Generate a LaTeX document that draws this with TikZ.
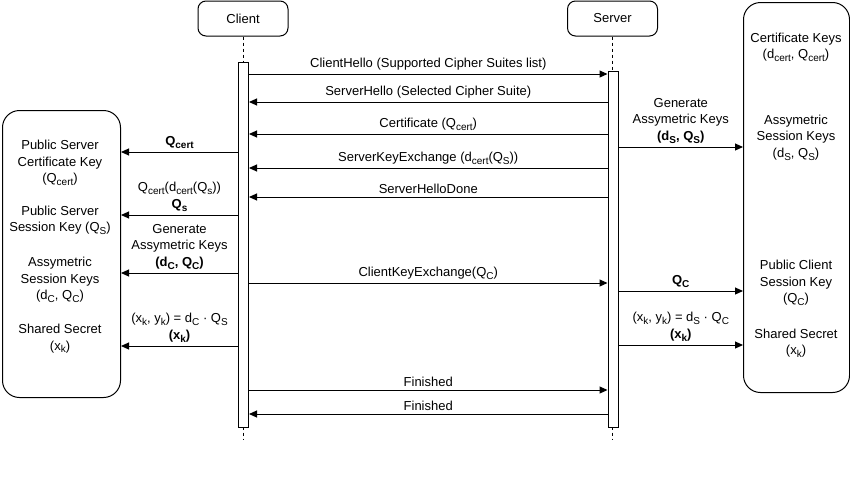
\documentclass[tikz,border=0pt]{standalone}
\usepackage{fontspec}
\setmainfont{Liberation Sans}
\usetikzlibrary{arrows.meta}
\newcommand{\low}[1]{\raisebox{-0.22em}{\fontsize{10}{10}\selectfont #1}}

\begin{document}
\begin{tikzpicture}[x=1pt, y=-1pt, line width=1pt, >={Triangle[length=8pt,width=7pt]},
  font=\fontsize{13}{16.5}\selectfont,
  head/.style={draw, rounded corners=8pt, minimum width=90pt, minimum height=35pt, inner sep=0pt},
  bar/.style={draw, fill=white, minimum width=10pt, inner sep=0pt, anchor=north},
  keybox/.style={draw, rounded corners=17pt, inner sep=0pt, anchor=north west},
  txt/.style={align=center, inner sep=0pt},
  lbl/.style={midway, above, align=center},
  life/.style={dash pattern=on 3pt off 3pt}]
\useasboundingbox (0,0) rectangle (850,490);

% participants
\node[head] (client) at (243,18.5) {Client};
\node[head] (server) at (612.5,18.5) {Server};

% lifelines, under the bars
\draw[life] (client.south) -- (client.south |- 0,440);
\draw[life] (server.south) -- (server.south |- 0,440);

\node[bar, minimum height=365pt] (cbar) at (243.5,62) {};
\node[bar, minimum height=356pt] (sbar) at (613,71) {};

% key boxes
\node[keybox, minimum width=118pt, minimum height=287pt] (lbox) at (2,110) {};
\node[keybox, minimum width=106pt, minimum height=390pt] (rbox) at (743,2) {};

\node[txt] (lcert) at (60,163) {Public Server\\Certificate Key\\(Q\low{cert})};
\node[txt] (lsess) at (60,220.5) {Public Server\\Session Key (Q\low{S})};
\node[txt] (lasym) at (60,280) {Assymetric\\Session Keys\\(d\low{C}, Q\low{C})};
\node[txt] (lshared) at (60,338.5) {Shared Secret\\(x\low{k})};

\node[txt] (rcert) at (796,47.5) {Certificate Keys\\(d\low{cert}, Q\low{cert})};
\node[txt] (rasym) at (796,137.5) {Assymetric\\Session Keys\\(d\low{S}, Q\low{S})};
\node[txt] (rpub) at (796,283) {Public Client\\Session Key\\(Q\low{C})};
\node[txt] (rshared) at (796,343) {Shared Secret\\(x\low{k})};

% client -> server
\foreach \y/\msg in {74/{ClientHello (Supported Cipher Suites list)},
                     283/{ClientKeyExchange(Q\low{C})},
                     390/{Finished}}
  \draw[->] (cbar.east |- 0,\y) -- (sbar.west |- 0,\y) node[lbl] {\msg};

% server -> client
\foreach \y/\msg in {102/{ServerHello (Selected Cipher Suite)},
                     134/{Certificate (Q\low{cert})},
                     168/{ServerKeyExchange (d\low{cert}(Q\low{S}))},
                     197/{ServerHelloDone},
                     414/{Finished}}
  \draw[->] (sbar.west |- 0,\y) -- (cbar.east |- 0,\y) node[lbl] {\msg};

% client side
\foreach \y/\msg in {152/{\textbf{Q\low{cert}}},
                     215/{Q\low{cert}(d\low{cert}(Q\low{s}))\\\textbf{Q\low{s}}},
                     273/{Generate\\Assymetric Keys\\\textbf{(d\low{C}, Q\low{C})}},
                     346/{(x\low{k}, y\low{k}) = d\low{C} · Q\low{S}\\\textbf{(x\low{k})}}}
  \draw[->] (cbar.west |- 0,\y) -- (lbox.east |- 0,\y) node[lbl] {\msg};

% server side
\foreach \y/\msg in {147/{Generate\\Assymetric Keys\\\textbf{(d\low{S}, Q\low{S})}},
                     291/{\textbf{Q\low{C}}},
                     345/{(x\low{k}, y\low{k}) = d\low{S} · Q\low{C}\\\textbf{(x\low{k})}}}
  \draw[->] (sbar.east |- 0,\y) -- (rbox.west |- 0,\y) node[lbl] {\msg};

\end{tikzpicture}
\end{document}
